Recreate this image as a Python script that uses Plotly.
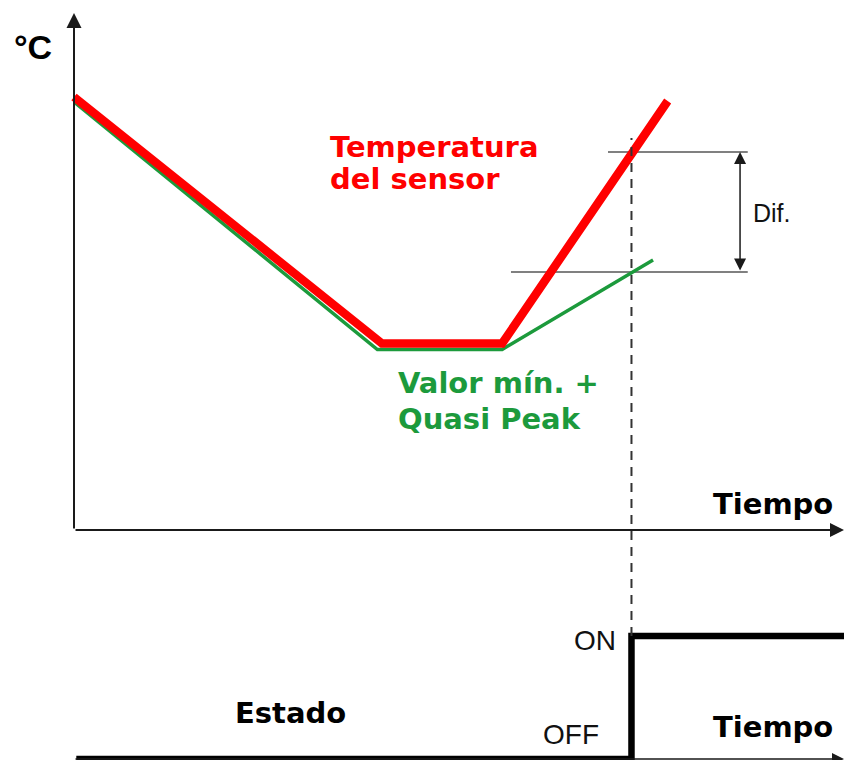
import plotly.graph_objects as go

# --- data -------------------------------------------------------------
# sensor temperature (red) and min value + quasi peak (green)
tiempo_sensor = [0, 40.0, 55.6, 77.1]
temp_sensor = [86.6, 37.3, 37.3, 85.8]

tiempo_quasi = [0, 39.4, 55.6, 75.2]
temp_quasi = [85.6, 36.1, 36.1, 54.0]

# switching thresholds and the moment the output turns on
umbral_alto = 75.6
umbral_bajo = 51.6
t_conmutacion = 72.4
umbral_alto_t = [69.35, 87.5]
umbral_bajo_t = [56.75, 87.5]
t_dif = 86.5

# output state (0 = OFF, 1 = ON)
tiempo_estado = [0.3, t_conmutacion, 100]
estado = [0, 1, 1]

# --- axes geometry ------------------------------------------------------
W, H = 844, 760
X_RANGE = [-74 / 7.7, 100]
Y1_DOMAIN = [1 - 530 / H, 1.0]
Y1_RANGE = [0, 106]
Y2_DOMAIN = [0.0, 1 - 530 / H]
Y2_RANGE = [-1 / 123, 229 / 123]

T_TOP = 103.4       # tip of the temperature axis arrow
E_TOP_DASH = 78.4   # upper end of the dashed switching line

RED = "#ff0000"
GREEN = "#1c9a3c"
AXIS = "#1a1a1a"
GRAY = "#808080"


def y1_paper(v):
    return Y1_DOMAIN[0] + (v - Y1_RANGE[0]) / (Y1_RANGE[1] - Y1_RANGE[0]) * (Y1_DOMAIN[1] - Y1_DOMAIN[0])


def y2_paper(v):
    return Y2_DOMAIN[0] + (v - Y2_RANGE[0]) / (Y2_RANGE[1] - Y2_RANGE[0]) * (Y2_DOMAIN[1] - Y2_DOMAIN[0])


fig = go.Figure()

# threshold reference lines
fig.add_trace(go.Scatter(x=umbral_alto_t, y=[umbral_alto] * 2, mode="lines",
                         line=dict(color=GRAY, width=1.8), hoverinfo="skip"))
fig.add_trace(go.Scatter(x=umbral_bajo_t, y=[umbral_bajo] * 2, mode="lines",
                         line=dict(color=GRAY, width=1.8), hoverinfo="skip"))

# min value + quasi peak
fig.add_trace(go.Scatter(x=tiempo_quasi, y=temp_quasi, mode="lines",
                         line=dict(color=GREEN, width=3.5)))
# sensor temperature
fig.add_trace(go.Scatter(x=tiempo_sensor, y=temp_sensor, mode="lines",
                         line=dict(color=RED, width=8.5)))

# output state step
fig.add_trace(go.Scatter(x=tiempo_estado, y=estado, mode="lines", line_shape="hv",
                         line=dict(color="#000000", width=6.5), xaxis="x", yaxis="y2"))

# dashed switching line across both panels
fig.add_shape(type="line", xref="x", yref="paper",
              x0=t_conmutacion, x1=t_conmutacion,
              y0=y2_paper(1), y1=y1_paper(E_TOP_DASH),
              line=dict(color="#333333", width=2, dash="9px,7px"))

annotations = []


def arrow(x, y, ax, ay, yref, width=2.0, size=1.3, side="end", color=AXIS):
    annotations.append(dict(x=x, y=y, ax=ax, ay=ay, xref="x", yref=yref,
                            axref="x", ayref=yref, text="", showarrow=True,
                            arrowhead=2, startarrowhead=2, arrowside=side,
                            arrowsize=size, startarrowsize=size,
                            arrowwidth=width, arrowcolor=color, standoff=0, startstandoff=0))


# temperature axes
arrow(0, T_TOP, 0, 0, "y", size=1.5)
arrow(100, 0, 0, 0, "y", size=1.4)
# state time axis
arrow(100, 0, 0, 0, "y2", width=1.6, size=1.5)
# differential
arrow(t_dif, umbral_alto, t_dif, umbral_bajo, "y", width=1.5, size=1.6, side="end+start")

BOLD = dict(family="DejaVu Sans", size=29, weight="bold")
REG = dict(family="Liberation Sans, Arial, sans-serif", size=28, color="#111111")


def label(text, x, y, yref, font, xanchor="left"):
    annotations.append(dict(text=text, x=x, y=y, xref="x", yref=yref,
                            xanchor=xanchor, yanchor="middle", showarrow=False,
                            font=font))


label("°C", -8.1, 96.6, "y", dict(family="Liberation Sans, Arial", size=34, weight="bold", color="#000"))
label("Temperatura", 33.0, 76.7, "y", dict(BOLD, color=RED))
label("del sensor", 33.0, 70.2, "y", dict(BOLD, color=RED))
label("Valor mín. +", 41.8, 29.4, "y", dict(BOLD, color=GREEN))
label("Quasi Peak", 41.8, 22.3, "y", dict(BOLD, color=GREEN))
label("Tiempo", 98.8, 5.3, "y", dict(BOLD, color="#000"), xanchor="right")
label("Dif.", 87.9, 63.5, "y", dict(REG, size=25))

label("Estado", 20.6, 0.374, "y2", dict(BOLD, color="#000"))
label("Tiempo", 98.8, 0.264, "y2", dict(BOLD, color="#000"), xanchor="right")
label("ON", 70.6, 0.965, "y2", REG, xanchor="right")
label("OFF", 68.4, 0.2, "y2", REG, xanchor="right")

fig.update_layout(
    width=W, height=H,
    margin=dict(l=0, r=0, t=0, b=0, pad=0),
    paper_bgcolor="white", plot_bgcolor="white",
    showlegend=False,
    xaxis=dict(range=X_RANGE, domain=[0, 1], visible=False, fixedrange=True),
    yaxis=dict(range=Y1_RANGE, domain=Y1_DOMAIN, visible=False, fixedrange=True),
    yaxis2=dict(range=Y2_RANGE, domain=Y2_DOMAIN, visible=False, anchor="x", fixedrange=True),
    annotations=annotations,
)

fig.write_html("out.html", config={"displayModeBar": False})
